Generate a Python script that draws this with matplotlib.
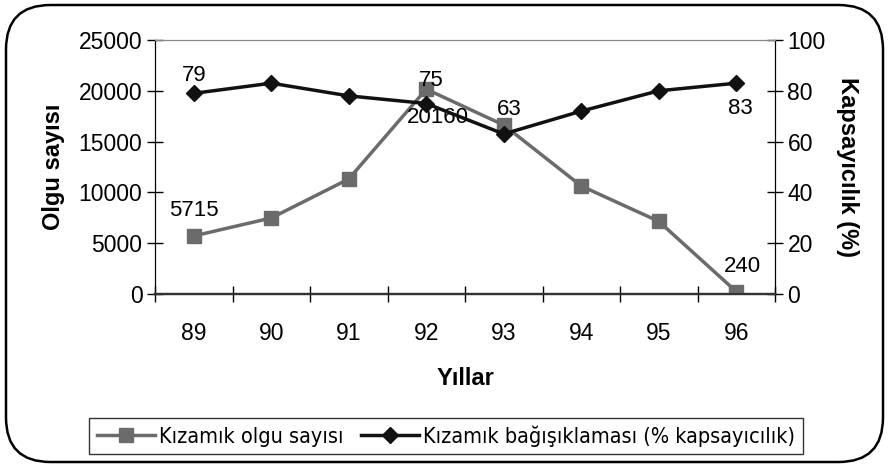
import matplotlib.pyplot as plt
from matplotlib.patches import FancyBboxPatch
from matplotlib.lines import Line2D
import numpy as np

years = ['89', '90', '91', '92', '93', '94', '95', '96']
cases = [5715, 7480, 11320, 20160, 16630, 10630, 7150, 240]
coverage = [79, 83, 78, 75, 63, 72, 80, 83]

# labelled points: (index, text, dx px, dy px)
case_labels = [(0, '5715', 0, 25), (3, '20160', 12, -28), (7, '240', 6, 25)]
cov_labels = [(0, '79', 0, 18), (3, '75', 5, 23), (4, '63', 6, 24), (7, '83', 4, -25)]

plt.rcParams['font.family'] = ['Liberation Sans', 'DejaVu Sans']

fig = plt.figure(figsize=(8.9, 4.67), dpi=100)

# outer rounded frame
frame = FancyBboxPatch((6 / 890, 5 / 467), 877 / 890, 457 / 467,
                       boxstyle='round,pad=0,rounding_size=0.05',
                       transform=fig.transFigure, fill=False,
                       edgecolor='black', linewidth=1.8,
                       mutation_aspect=890 / 467)
fig.patches.append(frame)

ax = fig.add_axes([155 / 890, 1 - 294 / 467, 620 / 890, 254 / 467])
ax2 = ax.twinx()

x = np.arange(len(years))

ax.plot(x, cases, color='#6b6b6b', linewidth=2.5, marker='s',
        markersize=10, zorder=3)
ax2.plot(x, coverage, color='#111111', linewidth=2.5, marker='D',
         markersize=8.5, zorder=4)

px = 0.72
for i, t, dx, dy in case_labels:
    ax.annotate(t, (x[i], cases[i]), xytext=(dx * px, dy * px),
                textcoords='offset points', ha='center', va='center',
                fontsize=16, zorder=6)
for i, t, dx, dy in cov_labels:
    ax2.annotate(t, (x[i], coverage[i]), xytext=(dx * px, dy * px),
                 textcoords='offset points', ha='center', va='center',
                 fontsize=16, zorder=6)

ax.set_xlim(-0.5, len(years) - 0.5)
ax.set_ylim(0, 25000)
ax2.set_ylim(0, 100)
ax.set_yticks(np.arange(0, 25001, 5000))
ax2.set_yticks(np.arange(0, 101, 20))

ax.set_xticks(np.arange(-0.5, len(years), 1))
ax.set_xticklabels([])
ax.set_xticks(x, minor=True)
ax.set_xticklabels(years, minor=True)
ax.tick_params(axis='x', which='major', direction='inout', length=12, width=1)
ax.tick_params(axis='x', which='minor', length=0, pad=20, labelsize=16.5)
ax.tick_params(axis='y', direction='inout', length=12, width=1, labelsize=16.5, pad=3)
ax2.tick_params(axis='y', direction='inout', length=12, width=1, labelsize=16.5, pad=3)

for a in (ax, ax2):
    a.spines['top'].set_color('#888888')
    a.spines['left'].set_color('black')
    a.spines['right'].set_color('black')
    a.spines['bottom'].set_color('#333333')
    a.spines['bottom'].set_linewidth(1.6)

ax.set_xlabel('Yıllar', fontsize=17, fontweight='bold', labelpad=16)
ax.set_ylabel('Olgu sayısı', fontsize=17, fontweight='bold', labelpad=10)
ax2.set_ylabel('Kapsayıcılık (%)', fontsize=17, fontweight='bold',
               rotation=-90, labelpad=24)

handles = [
    Line2D([], [], color='#6b6b6b', linewidth=2.5, marker='s', markersize=10),
    Line2D([], [], color='#111111', linewidth=2.5, marker='D', markersize=8.5),
]
leg = fig.legend(handles, ['Kızamık olgu sayısı', 'Kızamık bağışıklaması (% kapsayıcılık)'],
                 loc='center', bbox_to_anchor=(446 / 890, 1 - 436 / 467),
                 ncol=2, frameon=True, fancybox=False, edgecolor='black',
                 handlelength=2.7, handletextpad=0.2, columnspacing=0.8,
                 borderpad=0.35,
                 prop={'family': 'DejaVu Sans', 'size': 15.5, 'stretch': 'condensed'})
leg.get_frame().set_linewidth(1.0)

fig.savefig('out.png', dpi=100)
